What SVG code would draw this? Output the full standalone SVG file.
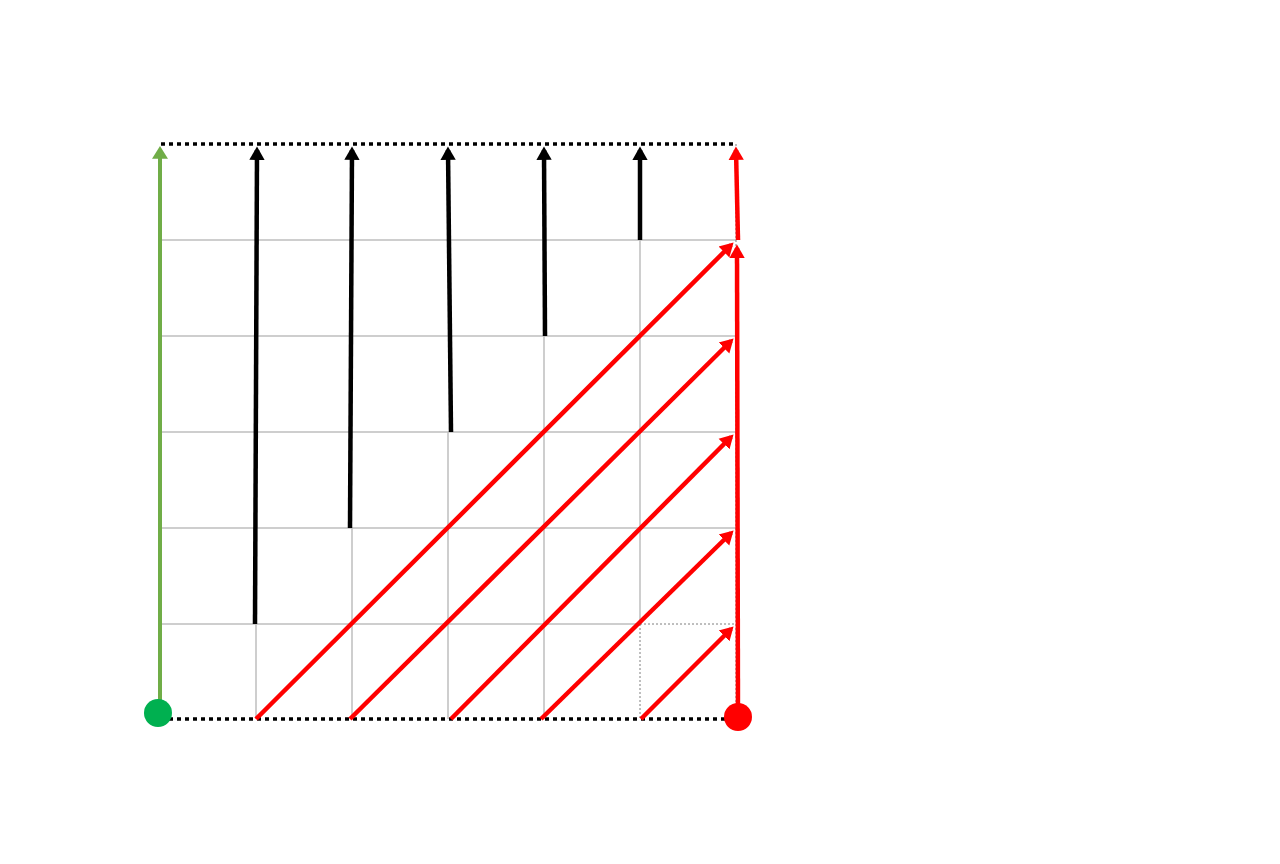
<svg xmlns="http://www.w3.org/2000/svg" width="1280" height="864" viewBox="0 0 1280 864">
<defs>
<style>
.grid{stroke:#bfbfbf;stroke-width:1.5;fill:none}
.thin{stroke:#7f7f7f;stroke-width:1;stroke-dasharray:2 2;fill:none}
.border{stroke:#000;stroke-width:3.5;stroke-dasharray:4 4;fill:none}
.blk{stroke:#000;stroke-width:4.5;fill:none;marker-end:url(#ab)}
.red{stroke:#ff0000;stroke-width:4.5;fill:none;marker-end:url(#ar)}
.grn{stroke:#70ad47;stroke-width:4;fill:none;marker-end:url(#ag)}
</style>
<marker id="ab" markerWidth="4" markerHeight="4" refX="2.2" refY="2" orient="auto" markerUnits="strokeWidth"><path d="M0,0.3L3,2L0,3.7Z" fill="#000"/></marker>
<marker id="ar" markerWidth="4" markerHeight="4" refX="2.2" refY="2" orient="auto" markerUnits="strokeWidth"><path d="M0,0.3L3,2L0,3.7Z" fill="#ff0000"/></marker>
<marker id="ag" markerWidth="4" markerHeight="4" refX="2.2" refY="2" orient="auto" markerUnits="strokeWidth"><path d="M0,0L3.2,2L0,4Z" fill="#70ad47"/></marker>
</defs>
<rect width="1280" height="864" fill="#fff"/>
<g id="grid">
<path class="grid" d="M161,240H736M161,336H736M161,432H736M161,528H736M161,624H640"/>
<path class="grid" d="M256,624V719M352,528V719M448,432V719M544,336V719M640,240V624"/>
<path class="thin" d="M640,624H736M640,624V719M736,144V719"/>
<path class="border" d="M161,144H736M161,719H736"/>
</g>
<g id="connectors">
<path class="grn" d="M160,713V150"/>
<path class="blk" d="M255,624L257,150"/>
<path class="blk" d="M350,528L352,150"/>
<path class="blk" d="M451,432L448,150"/>
<path class="blk" d="M545,336L544,150"/>
<path class="blk" d="M640,240V150"/>
<path class="red" d="M256,719L731,245"/>
<path class="red" d="M350,719L731,341"/>
<path class="red" d="M451,719L731,437"/>
<path class="red" d="M541,719L731,533"/>
<path class="red" d="M641,719L731,629"/>
<path class="red" d="M738,717L737,248"/>
<path class="red" d="M738,240L736,150"/>
</g>
<g id="start"><circle cx="158" cy="713" r="14" fill="#00b050"/></g>
<g id="end"><circle cx="738" cy="717" r="14" fill="#ff0000"/></g>
</svg>
